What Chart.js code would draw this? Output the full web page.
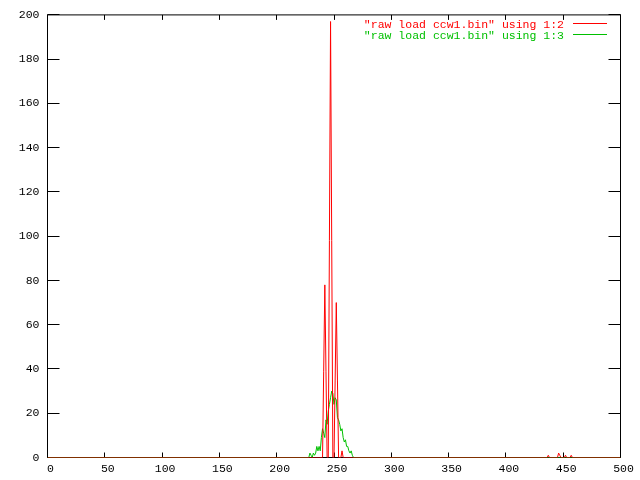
<!DOCTYPE html>
<html><head><meta charset="utf-8">
<script src="https://cdn.jsdelivr.net/npm/chart.js@4.4.1/dist/chart.umd.min.js"></script>
<style>html,body{margin:0;padding:0;background:#fff;}#wrap{width:640px;height:480px;}</style>
</head><body><div id="wrap"><canvas id="c" width="640" height="480"></canvas></div>
<script>
// ---- data ----
const xTickValues = [0, 50, 100, 150, 200, 250, 300, 350, 400, 450, 500];
const yTickValues = [0, 20, 40, 60, 80, 100, 120, 140, 160, 180, 200];
const seriesLabels = ['"raw load ccw1.bin" using 1:2', '"raw load ccw1.bin" using 1:3'];
const seriesColors = ['#ff0000', '#00c000'];

// column 2 (red)
const redX = [0, 240, 241, 242, 243, 244, 245, 246, 247, 248, 249, 250, 251, 252, 253, 254, 256, 257, 258,
              436, 437, 438, 445, 446, 447, 448, 451, 452, 453, 456, 457, 458, 500];
const redY = [0, 0, 39, 78, 39, 0, 0, 98, 197, 98, 0, 0, 35, 70, 35, 0, 0, 3, 0,
              0, 1, 0, 0, 2, 1, 0, 0, 1, 0, 0, 1, 0, 0];

// column 3 (green)
const greenX = [0, 228, 229, 230, 231, 232, 233, 234, 235, 236, 237, 238, 239, 240, 241, 242, 243, 244, 245,
                246, 247, 248, 249, 250, 251, 252, 253, 254, 255, 256, 257, 258, 259, 260, 261, 262, 263,
                264, 265, 266, 267, 500];
const greenY = [0, 0, 2, 1, 0, 2, 1, 2, 5, 3, 5, 3, 9, 13, 11, 9, 17, 15, 21,
                24, 27, 30, 29, 24, 27, 26, 18, 17, 15, 12, 13, 9, 7, 8, 5, 5, 3,
                2, 3, 1, 0, 0];

const pts = (xs, ys) => xs.map((v, i) => ({x: v, y: ys[i]}));

const FONT = '11.5px "Liberation Mono", "DejaVu Sans Mono", monospace';

const framePlugin = {
  id: 'frame',
  beforeDatasetsDraw(chart) {
    const {ctx, chartArea: a, scales: {x, y}} = chart;
    ctx.save();
    ctx.strokeStyle = '#000';
    ctx.lineWidth = 1;
    ctx.strokeRect(a.left, a.top, a.right - a.left, a.bottom - a.top);
    ctx.beginPath();
    x.ticks.forEach(t => {
      const px = Math.floor(x.getPixelForValue(t.value)) + 0.5;
      ctx.moveTo(px, a.bottom); ctx.lineTo(px, a.bottom - 5);
      ctx.moveTo(px, a.top); ctx.lineTo(px, a.top + 5);
    });
    y.ticks.forEach(t => {
      const py = Math.floor(y.getPixelForValue(t.value)) + 0.5;
      ctx.moveTo(a.left, py); ctx.lineTo(a.left + 12, py);
      ctx.moveTo(a.right, py); ctx.lineTo(a.right - 12, py);
    });
    ctx.stroke();
    ctx.restore();
  },
  afterDatasetsDraw(chart) {
    const {ctx} = chart;
    ctx.save();
    ctx.font = FONT;
    ctx.textAlign = 'right';
    ctx.textBaseline = 'alphabetic';
    chart.data.datasets.forEach((ds, i) => {
      const col = seriesColors[i];
      const yLine = 23.5 + i * 11;
      ctx.fillStyle = col;
      ctx.fillText(ds.label, 564, yLine + 4.5);
      ctx.strokeStyle = col;
      ctx.lineWidth = 1;
      ctx.beginPath();
      ctx.moveTo(573, yLine); ctx.lineTo(607, yLine);
      ctx.stroke();
    });
    ctx.restore();
  }
};

Chart.defaults.font.family = '"Liberation Mono", "DejaVu Sans Mono", monospace';
Chart.defaults.font.size = 11.5;
Chart.defaults.color = '#000';

new Chart(document.getElementById('c'), {
  type: 'line',
  data: {
    datasets: [
      {label: seriesLabels[0], data: pts(redX, redY), borderColor: seriesColors[0], borderWidth: 1,
       pointRadius: 0, tension: 0, fill: false},
      {label: seriesLabels[1], data: pts(greenX, greenY), borderColor: seriesColors[1], borderWidth: 1,
       pointRadius: 0, tension: 0, fill: false}
    ]
  },
  options: {
    responsive: false,
    animation: false,
    devicePixelRatio: 1,
    layout: {padding: {top: 13.5, right: 19.5, left: 0, bottom: 0}},
    plugins: {legend: {display: false}, tooltip: {enabled: false}},
    scales: {
      x: {
        type: 'linear', min: 0, max: 500,
        afterBuildTicks: s => { s.ticks = xTickValues.map(v => ({value: v})); },
        afterFit: s => { s.height = 22.5; },
        grid: {display: false, drawTicks: false},
        border: {display: false},
        ticks: {autoSkip: false, maxRotation: 0, padding: 5, labelOffset: 3, color: '#000'}
      },
      y: {
        type: 'linear', min: 0, max: 200,
        afterBuildTicks: s => { s.ticks = yTickValues.map(v => ({value: v})); },
        afterFit: s => { s.width = 47.5; },
        grid: {display: false, drawTicks: false},
        border: {display: false},
        ticks: {autoSkip: false, padding: 8, color: '#000'}
      }
    }
  },
  plugins: [framePlugin]
});
</script></body></html>
